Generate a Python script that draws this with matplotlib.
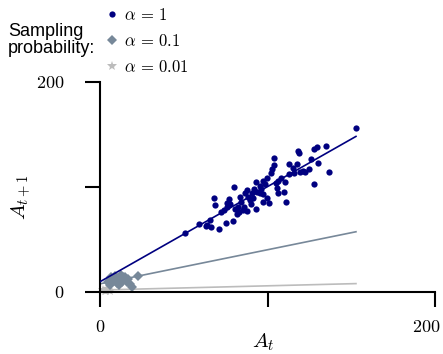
import matplotlib
matplotlib.use('Agg')
import matplotlib.pyplot as plt
import matplotlib.transforms as mtransforms
import numpy as np


plt.rcParams['mathtext.fontset'] = 'cm'
plt.rcParams['font.family'] = ['Liberation Sans', 'DejaVu Sans']

# alpha = 1 samples (A_t, A_t+1)
A1_X = [152.8, 134.9, 129.6, 127.8, 118.2, 118.8, 103.9, 126.0, 112.8, 117.6,
        103.9, 102.7, 130.1, 124.8, 121.2, 119.4, 122.4, 136.7, 102.1, 99.7,
        112.8, 115.8, 93.1, 110.4, 106.3, 105.1, 127.8, 80.0, 97.3, 98.5,
        95.5, 87.8, 86.6, 90.7, 93.7, 95.5, 97.3, 105.7, 106.3, 109.9,
        111.0, 68.1, 77.0, 75.8, 77.6, 83.6, 84.2, 82.4, 89.6, 91.3,
        90.1, 93.1, 99.7, 100.9, 97.3, 68.7, 72.2, 74.0, 75.8, 80.6,
        81.8, 83.0, 85.4, 87.8, 86.0, 75.2, 79.4, 65.7, 63.9, 66.3,
        63.3, 59.1, 71.0, 50.7, 92.0, 96.0, 108.0, 115.0, 88.5]
A1_Y = [155.8, 138.7, 137.8, 135.9, 134.0, 132.1, 127.3, 126.4, 121.6, 121.6,
        120.7, 116.9, 122.6, 116.9, 115.0, 114.0, 114.0, 114.0, 113.1, 108.3,
        112.1, 113.1, 104.5, 104.5, 105.5, 103.6, 102.6, 99.8, 105.5, 102.6,
        100.7, 96.9, 94.1, 94.1, 95.0, 94.1, 93.1, 98.8, 94.1, 95.0,
        85.5, 89.3, 88.4, 84.6, 83.6, 90.3, 85.5, 80.8, 87.4, 89.3,
        83.6, 78.9, 89.3, 84.6, 85.5, 82.7, 76.0, 77.9, 80.8, 78.9,
        74.1, 76.0, 77.9, 77.0, 80.8, 65.6, 67.5, 68.4, 63.7, 61.8,
        62.7, 64.6, 59.9, 56.1, 98.0, 97.5, 108.5, 118.0, 90.5]

# alpha = 0.1 samples
A01_X = [5.0, 6.4, 7.9, 9.0, 10.0, 11.0, 12.4, 13.0, 13.9, 14.9,
         15.9, 16.9, 17.9, 19.3, 22.5, 6.0, 11.5]
A01_Y = [9.5, 13.6, 11.2, 15.0, 8.6, 12.8, 15.9, 9.5, 13.6, 14.2,
         9.5, 11.7, 7.3, 4.8, 15.0, 6.4, 6.4]

# alpha = 0.01 samples
A001_X = [2.0, 3.0, 4.0, 5.0, 6.0, 3.5]
A001_Y = [2.0, 1.0, 3.0, 1.5, 0.8, 0.3]

# fitted lines (intercept, slope)
FIT_INTERCEPT = [9.5, 7.5, 1.6]
FIT_SLOPE = [0.907, 0.325, 0.04]

LABELS = [r'$\alpha\,=\,1$', r'$\alpha\,=\,0.1$', r'$\alpha\,=\,0.01$']
COLORS = ['#000080', '#778899', '#bcbcbc']
MARKERS = ['o', 'D', '*']


def main():
    fig = plt.figure(figsize=(4.43, 3.54), dpi=100)
    ax = fig.add_axes([0.2257, 0.176, 0.7563, 0.5924])

    samples = [(A1_X, A1_Y), (A01_X, A01_Y), (A001_X, A001_Y)]
    sizes = [4.5, 5, 7]
    x_end = max(A1_X)
    xs = np.array([0, x_end])

    for i, (x, y) in enumerate(samples):
        ax.plot(x, y, linestyle='none', marker=MARKERS[i], color=COLORS[i],
                markersize=sizes[i], markeredgewidth=0, label=LABELS[i],
                clip_on=False, zorder=3 - i)
        ax.plot(xs, FIT_INTERCEPT[i] + FIT_SLOPE[i] * xs, color=COLORS[i],
                linewidth=1.2, zorder=3 - i)

    ax.set_xlim(0, 200)
    ax.set_ylim(0, 200)
    for s in ['top', 'right']:
        ax.spines[s].set_visible(False)
    for s in ['left', 'bottom']:
        ax.spines[s].set_linewidth(1.5)

    ax.set_xticks([0, 100, 200])
    ax.set_xticklabels(['$0$', '', '$200$'])
    ax.set_yticks([0, 100, 200])
    ax.set_yticklabels(['$0$', '', '$200$'])
    ax.tick_params(axis='both', direction='out', length=10.5, width=1.5,
                   labelsize=13)
    ax.tick_params(axis='x', pad=9)
    ax.tick_params(axis='y', pad=15)

    # nudge the last x tick label inside the figure
    shift = mtransforms.ScaledTranslation(-6 / 72, 0, fig.dpi_scale_trans)
    last = ax.get_xticklabels()[2]
    last.set_transform(last.get_transform() + shift)

    ax.set_xlabel('$A_t$', fontsize=15)
    ax.xaxis.set_label_coords(0.487, -0.19)
    ax.set_ylabel('$A_{t+1}$', fontsize=15)
    ax.yaxis.set_label_coords(-0.2, 0.45)

    fig.legend(loc='upper left', bbox_to_anchor=(0.226, 1.0), frameon=False,
               fontsize=12, handlelength=0.6, handletextpad=0.45,
               labelspacing=0.6, borderaxespad=0)
    fig.text(0.018, 0.887, 'Sampling\nprobability:', fontsize=13,
             ha='left', va='center', linespacing=1.0)

    fig.savefig('out.png', dpi=100)


if __name__ == '__main__':
    main()
